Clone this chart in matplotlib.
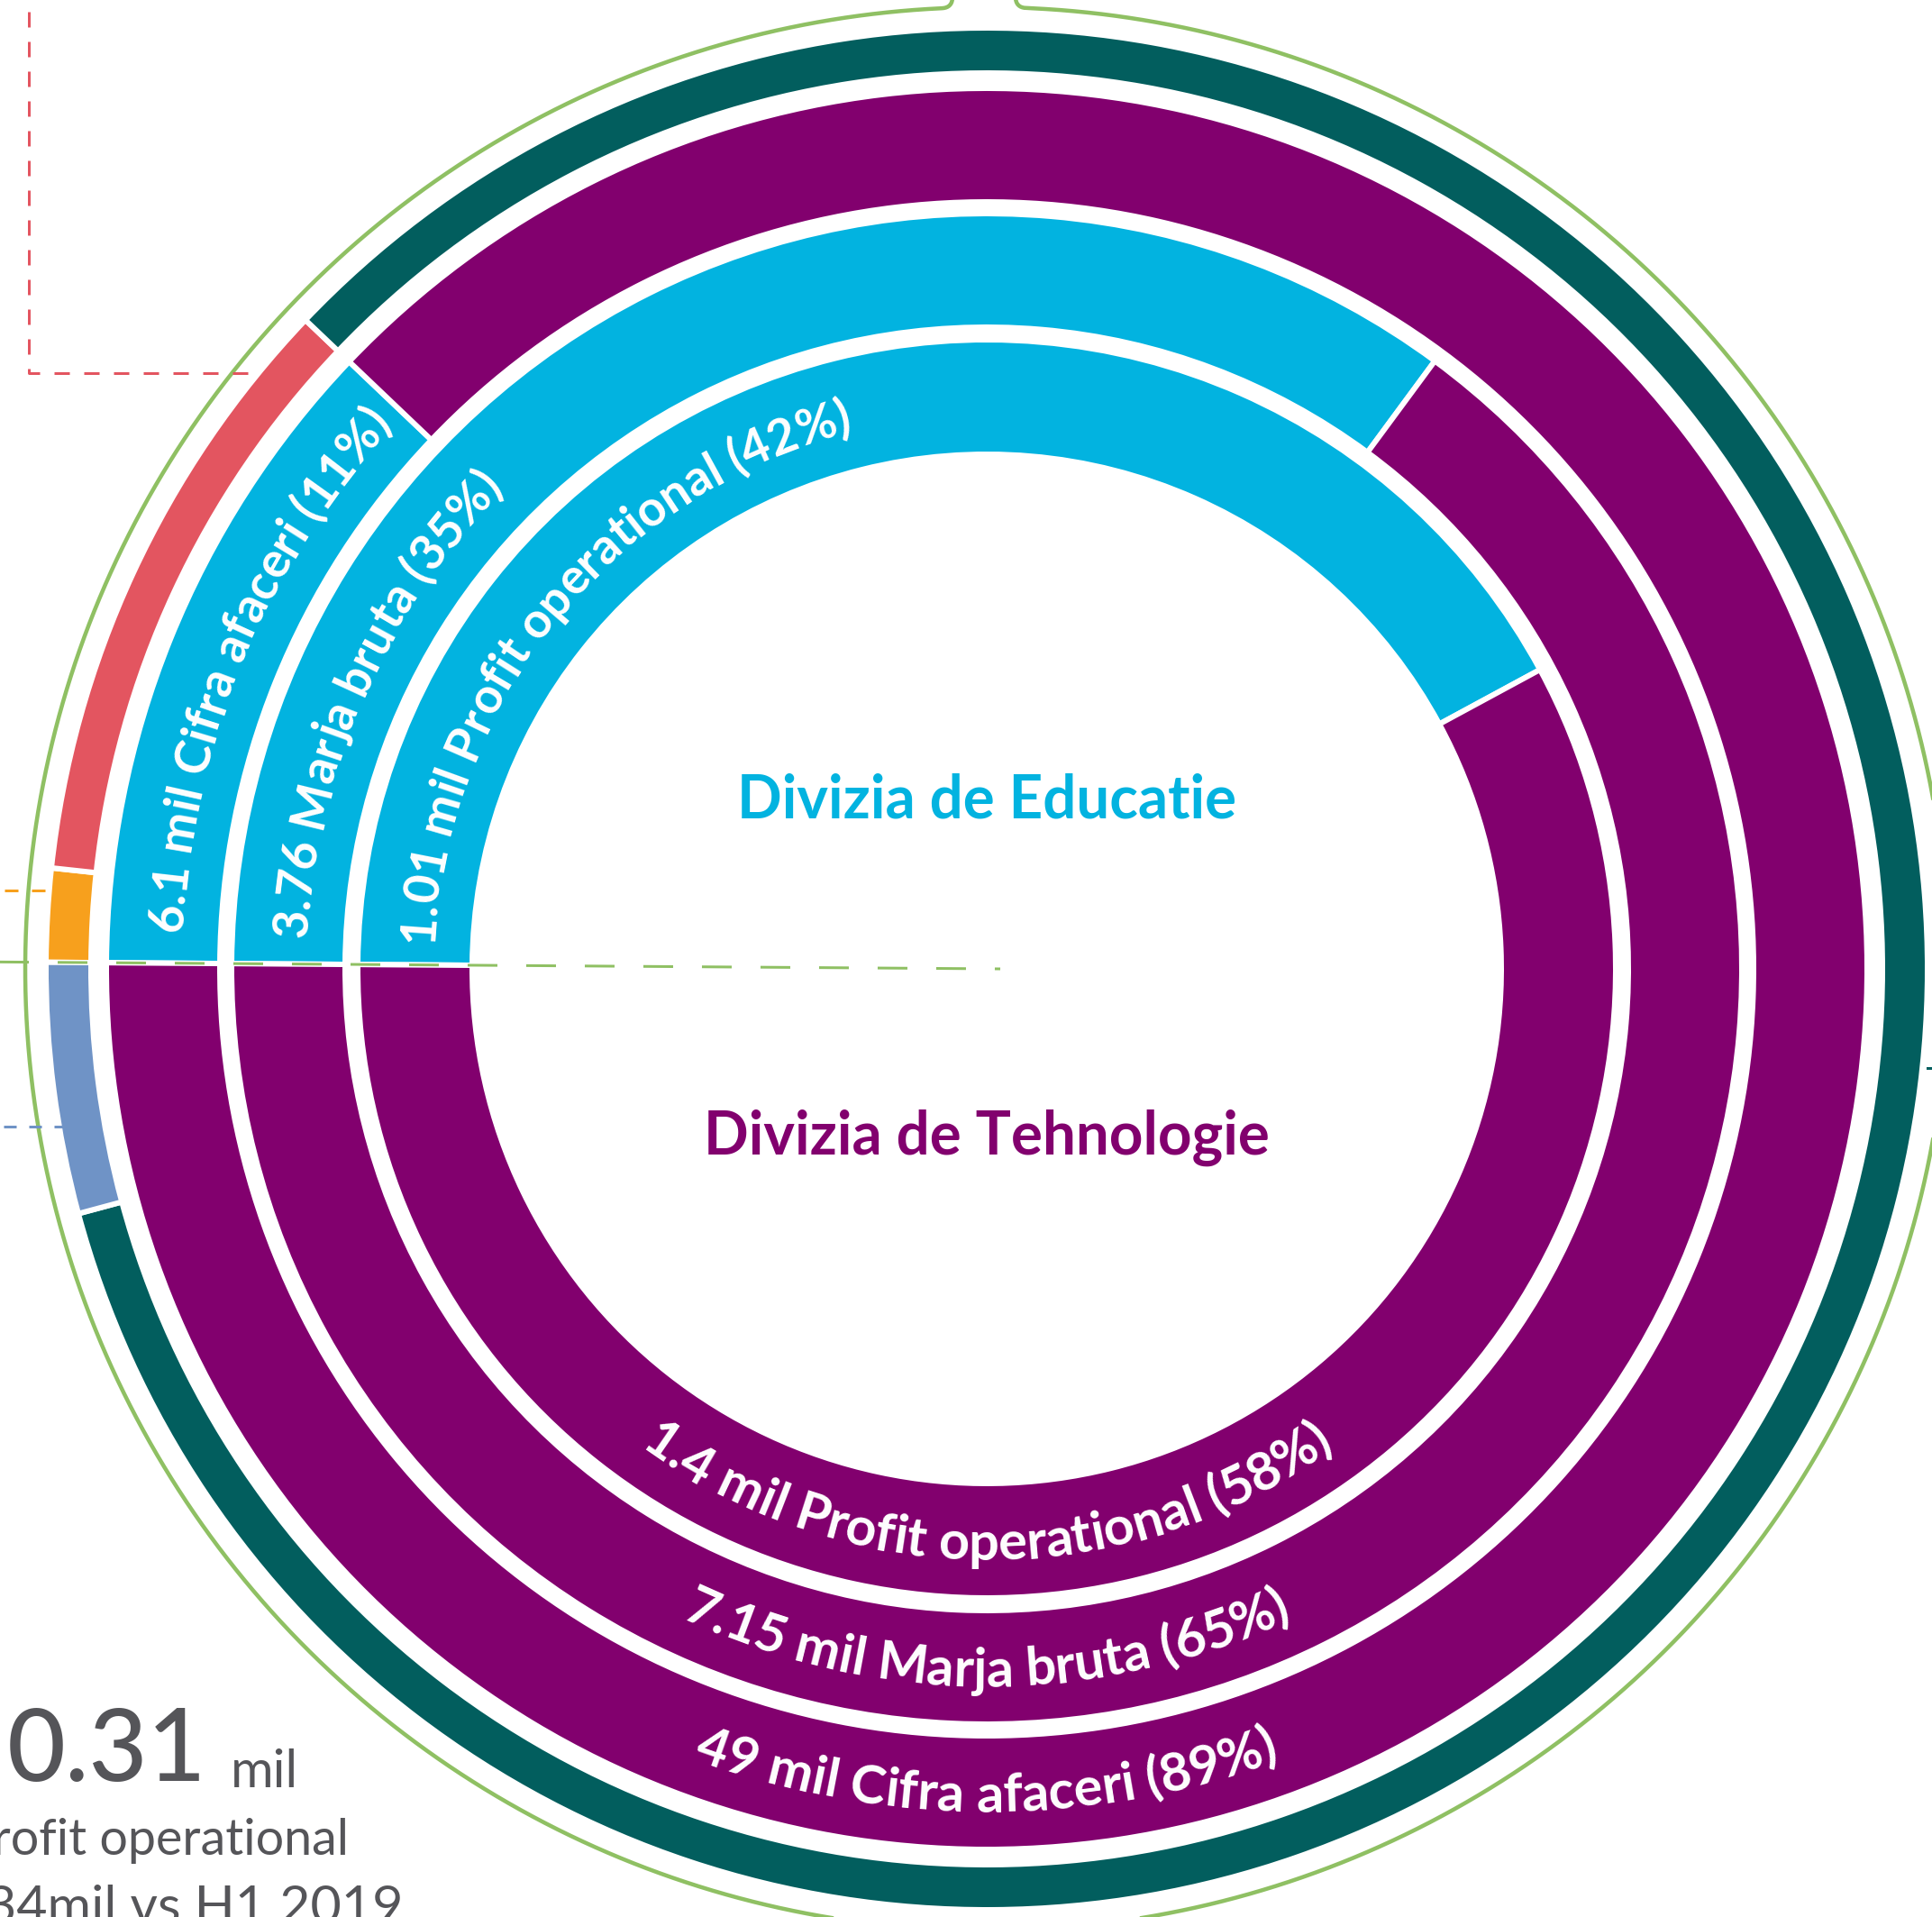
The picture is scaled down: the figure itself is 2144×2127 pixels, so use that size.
import numpy as np
import matplotlib
matplotlib.use('Agg')
import matplotlib.pyplot as plt
from matplotlib.font_manager import FontProperties

W, H = 2144, 2127

# data
metrics = ['Cifra afaceri', 'Marja bruta', 'Profit operational']
edu_values = [6.1, 3.76, 1.01]
tech_values = [49, 7.15, 1.4]
edu_units = ['mil ', '', 'mil ']
tech_units = ['mil ', 'mil ', 'mil ']
edu_pct = [11, 35, 42]
tech_pct = [89, 65, 58]
cifra_drawn = [12, 88]                 # turnover ring is drawn at 12 / 88
outer_shares = [1.6, 10.4, 83.7, 4.3]  # orange, red, teal, blue (clockwise from 9 o'clock)

big_number = '0.31'
big_unit = 'mil'
note_lines = ['Profit operational', '34mil vs H1 2019']

TEAL = '#025e5e'
PURPLE = '#82006e'
CYAN = '#02b3e0'
RED = '#e35560'
ORANGE = '#f7a01d'
BLUE = '#6f93c6'
GREEN = '#8fc063'
GRAY = '#555559'
FONT = 'Lato'

plt.rcParams['lines.scale_dashes'] = False
PT = 0.72  # px -> pt at dpi 100

cx, cy = 1095, H - 1075
START = 179.6
GAP = 6

fig = plt.figure(figsize=(W / 100, H / 100), dpi=100)
ax = fig.add_axes([0, 0, 1, 1])
renderer = fig.canvas.get_renderer()


def tw(s, prop):
    return renderer.get_text_width_height_descent(s, prop, ismath=False)[0]


def cap_h(prop):
    w, h, d = renderer.get_text_width_height_descent('H', prop, ismath=False)
    return h - d


def fit(s, width, weight='normal'):
    p = FontProperties(family=FONT, weight=weight, size=10)
    return FontProperties(family=FONT, weight=weight, size=10 * width / tw(s, p))


# rings: (outer radius, inner radius, shares, colours)
rings = [
    (1041, 997, outer_shares, [ORANGE, RED, TEAL, BLUE]),
    (974, 854, cifra_drawn, [CYAN, PURPLE]),
    (835, 715, [edu_pct[1], tech_pct[1]], [CYAN, PURPLE]),
    (695, 574, [edu_pct[2], tech_pct[2]], [CYAN, PURPLE]),
]
for r_out, r_in, vals, cols in rings:
    ax.pie(vals, colors=cols, radius=r_out + GAP / 2, startangle=START,
           counterclock=False, center=(cx, cy),
           wedgeprops=dict(width=r_out - r_in + GAP, edgecolor='white',
                           linewidth=GAP * PT))

# thin green circle with the notch at the top
R = 1067
xl, xr, rc = 1057, 1127, 12
th_l = np.degrees(np.arccos((xl - rc - cx) / R))
th_r = np.degrees(np.arccos((xr + rc - cx) / R))
th = np.radians(np.linspace(th_l, th_r + 360, 3000))
arc = np.column_stack([cx + R * np.cos(th), cy + R * np.sin(th)])


def bez(p0, p1, p2, n=20):
    t = np.linspace(0, 1, n)[:, None]
    return (1 - t) ** 2 * np.array(p0) + 2 * (1 - t) * t * np.array(p1) + t ** 2 * np.array(p2)


yl = cy + np.sqrt(R ** 2 - (xl - cx) ** 2)
yr = cy + np.sqrt(R ** 2 - (xr - cx) ** 2)
path = np.vstack([[(xl, H + 10)], bez((xl, yl + rc), (xl, yl), arc[0]), arc,
                  bez(arc[-1], (xr, yr), (xr, yr + rc)), [(xr, H + 10)]])
ax.plot(path[:, 0], path[:, 1], color=GREEN, lw=4.5 * PT, zorder=3)

# dashed leader lines
a = np.radians(START)
ax.plot([cx + 1125 * np.cos(a), cx + 15], [cy + 1125 * np.sin(a), cy], color=GREEN,
        lw=3 * PT, dashes=(33 * PT, 32 * PT), zorder=5)
ax.plot([5, 53], [H - 988, H - 988], color=ORANGE, lw=3 * PT,
        dashes=(15 * PT, 15 * PT), zorder=5)
ax.plot([4, 72], [H - 1250, H - 1250], color=BLUE, lw=3 * PT,
        dashes=(14 * PT, 14 * PT), zorder=5)
ax.plot([32, 32, 277], [H - 13, H - 414, H - 414], color=RED, lw=3 * PT,
        dashes=(17 * PT, 16 * PT), zorder=5)
ax.plot([2139, 2150], [H - 1185, H - 1185], color=TEAL, lw=3 * PT, zorder=5)


def curved(s, r_mid, theta0, sense, prop, color, centred=False):
    c = cap_h(prop)
    r_b = r_mid - c / 2 if sense < 0 else r_mid + c / 2
    bar = tw('|', prop)
    lefts = [0.0] + [tw(s[:i] + '|', prop) - bar for i in range(1, len(s) + 1)]
    if centred:
        theta0 = theta0 - sense * np.degrees(lefts[-1] / 2 / r_b)
    for i, ch in enumerate(s):
        if ch == ' ':
            continue
        t = theta0 + sense * np.degrees((lefts[i] + lefts[i + 1]) / 2 / r_b)
        tr = np.radians(t)
        ax.text(cx + r_b * np.cos(tr), cy + r_b * np.sin(tr), ch,
                rotation=(t - 90) if sense < 0 else (t + 90),
                rotation_mode='anchor', ha='center', va='baseline',
                fontproperties=prop, color=color, zorder=6)


edu_labels = [f'{v:g} {u}{m} ({p}%)' for v, u, m, p in zip(edu_values, edu_units, metrics, edu_pct)]
tech_labels = [f'{v:g} {u}{m} ({p}%)' for v, u, m, p in zip(tech_values, tech_units, metrics, tech_pct)]

mids = [914, 775, 634.5]
edu_prop = fit(edu_labels[0], 622, weight='bold')
tech_prop = fit(tech_labels[0], 665, weight='bold')
for lab, r in zip(edu_labels, mids):
    curved(lab, r, 177.4, -1, edu_prop, 'white')
for lab, r in zip(tech_labels, mids):
    curved(lab, r, 270, 1, tech_prop, 'white', centred=True)

# centre titles
title_prop = fit('Divizia de Educatie', 555, weight='bold')
ax.text(cx, H - 908, 'Divizia de Educatie', ha='center', va='baseline',
        fontproperties=title_prop, color=CYAN, zorder=6)
ax.text(cx, H - 1281, 'Divizia de Tehnologie', ha='center', va='baseline',
        fontproperties=title_prop, color=PURPLE, zorder=6)

# bottom-left note
num_prop = fit(big_number, 221, weight='medium')
ax.text(8, H - 1976, big_number, ha='left', va='baseline',
        fontproperties=num_prop, color=GRAY)
ax.text(256, H - 1983, big_unit, ha='left', va='baseline',
        fontproperties=fit(big_unit, 75), color=GRAY)
line_prop = fit(note_lines[0][1:], 398)
ax.text(387, H - 2058, note_lines[0], ha='right', va='baseline',
        fontproperties=line_prop, color=GRAY)
line3_prop = fit(note_lines[1], 462)
ax.text(448, H - 2092 - cap_h(line3_prop), note_lines[1], ha='right', va='baseline',
        fontproperties=line3_prop, color=GRAY)

ax.set_xlim(0, W)
ax.set_ylim(0, H)
ax.set_aspect('auto')
ax.axis('off')
fig.savefig('out.png', dpi=100, facecolor='white')
